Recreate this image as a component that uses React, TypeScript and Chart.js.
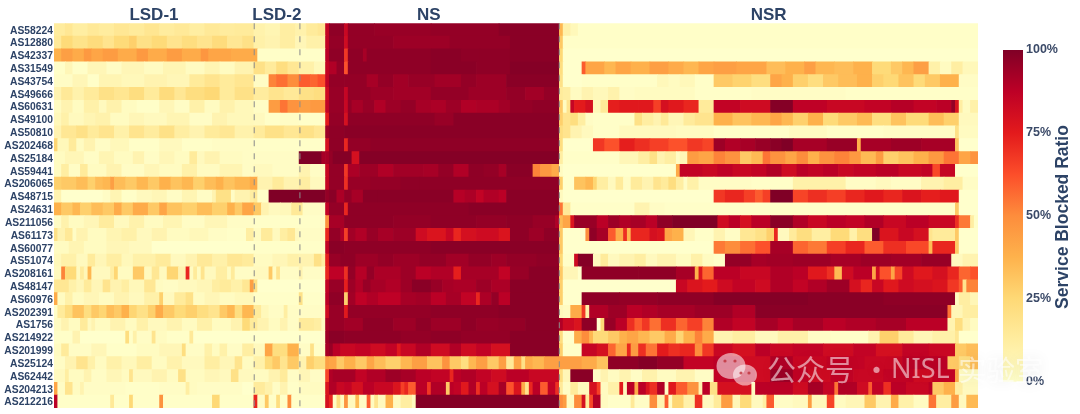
import React, { useEffect, useRef } from "react";
import { Chart, registerables } from "chart.js";

Chart.register(...registerables);

// Every row is a list of [last column (exclusive), blocked ratio %] runs over 245 services.
const AS58224 = [[3,13],[5,16],[9,12],[12,15],[16,13],[20,16],[24,14],[28,17],[32,13],[36,15],[40,12],[44,15],[48,13],[53,14],[56,9],[60,7],[64,12],[67,9],[70,14],[72,16],[73,85],[77,97],[78,84],[85,96],[100,95],[118,96],[134,98],[135,36],[137,10],[139,5],[245,1]];
const AS12880 = [[2,15],[5,24],[9,19],[13,23],[16,18],[20,24],[22,28],[26,20],[30,24],[34,18],[38,22],[42,18],[46,23],[50,16],[53,20],[56,10],[60,8],[64,12],[67,6],[72,10],[73,86],[77,96],[78,82],[90,96],[105,94],[121,96],[134,98],[135,30],[245,1]];
const AS42337 = [[2,38],[5,44],[8,40],[10,46],[13,42],[17,45],[22,40],[25,46],[30,40],[34,45],[39,40],[41,47],[47,42],[54,40],[72,1],[73,88],[77,97],[78,68],[82,97],[83,92],[100,97],[108,98],[113,97],[121,97],[134,98],[135,25],[245,0]];
const AS31549 = [[3,1],[5,6],[9,1],[14,6],[18,2],[24,6],[29,3],[35,7],[40,3],[44,7],[48,3],[53,8],[56,20],[59,14],[62,22],[65,16],[69,10],[72,5],[73,86],[75,90],[77,96],[78,62],[100,97],[112,98],[121,97],[134,99],[135,22],[140,0],[141,60],[146,42],[149,36],[153,42],[158,38],[163,44],[167,40],[171,36],[175,42],[181,44],[189,42],[194,34],[199,38],[202,44],[207,36],[212,34],[217,38],[222,24],[225,30],[228,36],[232,44],[235,10],[238,3],[241,12],[245,5]];
const AS43754 = [[5,2],[9,6],[12,1],[18,7],[24,5],[30,8],[36,6],[40,14],[44,18],[48,14],[53,17],[57,2],[59,52],[62,56],[65,50],[68,60],[70,58],[72,62],[73,86],[77,96],[83,96],[86,92],[90,96],[94,93],[101,95],[108,93],[112,96],[120,94],[134,98],[135,20],[140,0],[160,1],[163,5],[166,3],[170,5],[175,1],[180,30],[185,27],[190,22],[193,42],[196,38],[200,28],[204,22],[208,30],[213,34],[217,38],[220,28],[224,25],[228,32],[231,24],[235,30],[240,38],[245,2]];
const AS49666 = [[2,8],[5,15],[8,9],[12,14],[16,20],[20,17],[24,22],[28,14],[32,23],[35,16],[40,22],[44,25],[48,14],[53,20],[57,13],[61,18],[65,15],[69,20],[72,22],[73,82],[77,95],[78,85],[84,96],[90,94],[100,93],[110,96],[120,94],[125,96],[130,93],[134,96],[135,14],[137,12],[140,3],[143,8],[147,5],[150,9],[154,2],[170,3],[185,1],[210,2],[245,1]];
const AS60631 = [[2,3],[5,8],[8,3],[12,10],[14,4],[18,9],[22,3],[28,1],[32,6],[36,2],[40,10],[44,3],[48,9],[53,5],[57,2],[60,45],[62,55],[65,48],[68,44],[72,46],[73,86],[77,95],[78,84],[79,96],[82,92],[85,95],[88,90],[92,94],[96,96],[100,92],[104,91],[108,94],[112,90],[118,91],[121,93],[127,96],[134,97],[135,30],[136,3],[137,18],[138,85],[141,75],[143,80],[145,5],[147,15],[150,74],[155,76],[159,76],[161,66],[163,80],[167,76],[171,72],[175,14],[182,86],[190,82],[196,99],[205,87],[215,84],[222,86],[228,89],[234,86],[238,88],[239,96],[240,78],[241,12],[243,3],[245,10]];
const AS49100 = [[2,5],[4,10],[8,4],[11,7],[15,9],[20,3],[24,6],[30,4],[36,7],[42,2],[46,8],[53,5],[56,4],[60,1],[65,2],[72,1],[73,75],[77,96],[78,80],[101,97],[106,95],[134,98],[135,28],[137,18],[139,22],[141,12],[143,2],[154,1],[156,20],[159,12],[161,8],[163,15],[167,6],[170,14],[175,18],[180,38],[185,32],[190,36],[193,42],[196,36],[200,28],[204,38],[208,24],[213,30],[217,35],[222,22],[226,32],[232,24],[236,34],[240,28],[245,4]];
const AS50810 = [[2,8],[6,16],[9,20],[12,14],[16,18],[20,10],[24,18],[28,13],[32,20],[36,12],[40,8],[44,14],[48,16],[53,9],[56,14],[61,20],[65,16],[69,20],[72,16],[73,94],[77,97],[134,98],[135,22],[137,18],[140,8],[143,4],[150,1],[165,4],[175,3],[195,1],[205,3],[220,1],[239,2],[240,20],[245,3]];
const AS202468 = [[1,26],[4,5],[6,14],[8,3],[11,8],[15,2],[20,5],[28,1],[34,4],[42,1],[53,2],[72,1],[73,80],[77,97],[78,72],[84,96],[134,97],[135,22],[143,0],[146,68],[150,62],[154,74],[158,70],[163,66],[168,62],[172,68],[175,65],[178,94],[182,90],[186,92],[190,95],[193,98],[196,100],[205,92],[213,95],[214,38],[222,92],[230,94],[239,92],[240,32],[245,0]];
const AS25184 = [[3,3],[8,6],[12,2],[16,7],[21,3],[24,8],[28,2],[32,6],[36,3],[38,14],[40,4],[44,8],[50,3],[65,2],[71,100],[72,92],[73,92],[74,96],[79,99],[81,80],[134,99],[135,12],[150,1],[155,6],[158,12],[160,20],[162,8],[165,12],[166,2],[168,6],[171,45],[175,42],[178,52],[182,48],[185,30],[188,35],[190,55],[194,48],[197,42],[200,50],[203,38],[207,48],[211,52],[214,46],[218,35],[220,45],[224,28],[228,32],[232,38],[236,46],[240,55],[243,42],[245,48]];
const AS59441 = [[2,3],[4,12],[7,2],[9,14],[14,3],[18,8],[24,2],[28,6],[34,3],[38,10],[44,3],[50,7],[53,2],[58,4],[65,2],[68,8],[72,2],[73,84],[77,96],[78,68],[81,91],[86,94],[90,90],[98,93],[102,92],[106,96],[110,90],[114,97],[118,96],[120,92],[127,98],[129,52],[132,46],[134,40],[135,3],[165,0],[166,40],[172,86],[176,84],[180,87],[185,84],[189,86],[193,90],[197,82],[200,88],[204,86],[208,88],[212,84],[218,86],[224,88],[230,84],[233,86],[235,64],[239,85],[245,0]];
const AS206065 = [[2,28],[6,30],[9,34],[11,28],[13,34],[15,36],[16,44],[19,34],[22,30],[25,36],[28,30],[31,38],[34,32],[37,36],[40,28],[43,34],[45,38],[48,32],[52,36],[54,40],[58,8],[61,14],[65,8],[68,12],[72,4],[73,85],[77,96],[78,70],[84,95],[92,96],[97,97],[134,97],[135,28],[138,0],[141,32],[143,36],[144,26],[147,12],[149,4],[151,14],[153,2],[156,14],[159,8],[161,18],[163,14],[165,22],[167,12],[168,2],[171,10],[175,2],[185,2],[196,1],[210,10],[218,2],[222,4],[230,2],[236,8],[241,12],[245,2]];
const AS48715 = [[2,8],[13,0],[15,2],[18,7],[22,1],[26,4],[30,6],[34,2],[38,7],[42,2],[43,8],[47,20],[48,2],[52,8],[53,12],[54,15],[57,1],[72,100],[73,96],[75,98],[77,91],[79,96],[82,92],[86,98],[106,98],[109,89],[112,91],[114,86],[118,90],[120,88],[134,98],[135,4],[175,0],[178,68],[183,72],[186,66],[188,60],[190,66],[196,100],[200,65],[205,70],[210,66],[215,72],[220,76],[225,72],[230,78],[235,74],[240,76],[245,0]];
const AS24631 = [[2,38],[5,30],[7,36],[10,28],[13,34],[16,30],[18,40],[21,30],[25,40],[28,30],[30,42],[34,32],[38,28],[42,34],[46,28],[48,38],[50,30],[53,42],[55,30],[57,8],[60,4],[63,5],[66,15],[72,2],[73,86],[77,96],[78,72],[110,97],[134,98],[135,55],[137,15],[154,1],[158,8],[162,2],[239,1],[240,30],[245,0]];
const AS211056 = [[2,2],[4,9],[8,3],[12,6],[16,13],[20,4],[24,9],[29,3],[34,7],[40,2],[46,6],[53,2],[72,1],[73,48],[77,92],[90,97],[100,96],[112,97],[120,96],[127,97],[133,95],[134,90],[135,35],[137,42],[138,78],[144,95],[147,88],[150,94],[153,90],[157,92],[160,88],[164,97],[176,100],[179,82],[182,88],[185,80],[190,88],[196,98],[200,90],[205,84],[210,88],[215,86],[220,90],[226,84],[232,88],[239,84],[240,70],[243,54],[244,12],[245,1]];
const AS61173 = [[1,20],[3,8],[5,15],[6,2],[9,8],[14,3],[18,7],[22,10],[26,4],[30,8],[36,3],[41,5],[46,2],[51,1],[53,12],[55,3],[58,14],[60,4],[62,12],[64,16],[65,4],[72,2],[73,72],[76,96],[77,90],[78,66],[80,93],[83,90],[86,95],[90,92],[96,94],[99,82],[104,78],[106,84],[108,72],[112,80],[118,82],[121,78],[126,97],[130,94],[134,97],[135,30],[141,0],[142,50],[144,97],[147,92],[149,60],[151,40],[152,70],[153,36],[158,72],[160,80],[162,78],[164,42],[167,38],[170,6],[175,1],[178,8],[182,2],[186,16],[189,20],[191,28],[192,72],[195,4],[197,14],[201,22],[206,12],[211,24],[213,10],[217,22],[219,100],[224,78],[228,84],[232,80],[233,18],[239,14],[240,30],[245,0]];
const AS60077 = [[4,3],[8,7],[14,3],[20,6],[26,4],[53,0],[72,1],[73,86],[77,98],[100,97],[134,98],[135,30],[175,0],[178,54],[182,50],[186,56],[190,62],[196,92],[200,58],[205,54],[210,66],[215,72],[220,60],[226,70],[232,64],[233,35],[239,72],[240,30],[245,0]];
const AS51074 = [[2,5],[6,10],[9,4],[11,14],[14,6],[18,12],[21,5],[27,10],[31,14],[35,4],[38,8],[42,15],[46,10],[50,16],[53,14],[58,3],[62,6],[65,10],[69,8],[71,20],[72,12],[73,74],[76,95],[80,97],[86,94],[90,96],[97,94],[104,96],[110,93],[116,96],[120,94],[128,96],[134,97],[135,25],[138,1],[139,82],[143,99],[145,4],[147,14],[150,4],[154,8],[157,12],[160,4],[165,8],[169,3],[172,10],[175,3],[178,1],[185,96],[189,92],[196,93],[206,94],[214,92],[222,94],[230,93],[238,95],[241,4],[245,8]];
const AS208161 = [[2,4],[3,52],[6,24],[7,4],[8,14],[9,6],[10,36],[15,4],[16,12],[17,26],[21,3],[24,30],[26,4],[28,16],[30,4],[33,26],[35,8],[36,72],[37,3],[38,14],[39,3],[40,18],[43,4],[46,12],[47,3],[48,14],[53,2],[57,4],[58,30],[59,3],[60,18],[65,2],[66,8],[72,2],[73,72],[77,87],[78,70],[80,96],[83,89],[85,96],[92,91],[96,94],[100,88],[106,90],[108,74],[118,92],[121,86],[126,95],[134,98],[135,30],[139,6],[140,0],[155,97],[165,97],[170,92],[171,38],[172,78],[175,58],[182,88],[190,84],[196,90],[200,88],[205,76],[207,70],[209,35],[212,82],[217,88],[218,42],[219,82],[222,62],[223,42],[225,65],[228,82],[233,76],[237,80],[240,72],[243,58],[245,62]];
const AS48147 = [[4,16],[6,10],[8,6],[10,14],[13,6],[15,18],[18,8],[20,12],[24,5],[27,16],[29,3],[33,2],[38,4],[42,6],[44,12],[47,14],[50,10],[52,16],[53,44],[54,20],[72,0],[73,86],[77,95],[78,74],[80,94],[82,90],[84,95],[88,92],[92,90],[95,94],[100,98],[103,95],[106,92],[112,91],[116,94],[121,91],[134,98],[135,28],[165,0],[168,84],[172,78],[176,75],[180,82],[186,86],[190,82],[196,90],[200,86],[205,90],[211,94],[214,80],[217,72],[220,84],[224,76],[228,82],[233,80],[237,78],[240,68],[241,60],[242,18],[245,52]];
const AS60976 = [[1,40],[3,3],[5,10],[8,3],[12,6],[16,3],[20,8],[24,4],[28,10],[29,28],[32,4],[35,14],[37,20],[40,3],[44,6],[48,3],[53,5],[65,1],[66,20],[72,1],[73,88],[77,97],[78,28],[80,93],[83,87],[86,90],[92,87],[96,92],[100,93],[104,88],[108,92],[112,86],[113,72],[116,91],[118,96],[121,88],[134,98],[135,28],[140,0],[150,97],[160,96],[175,97],[200,99],[220,98],[239,97],[240,3],[243,12],[245,6]];
const AS202391 = [[1,1],[3,14],[5,22],[8,32],[10,22],[12,30],[14,26],[16,34],[18,30],[20,38],[22,26],[25,20],[27,28],[29,40],[32,30],[35,24],[38,28],[41,22],[44,18],[46,30],[48,36],[50,22],[53,36],[55,14],[57,5],[61,2],[62,12],[72,2],[73,82],[77,95],[78,76],[100,96],[118,97],[134,98],[135,5],[137,3],[140,40],[141,68],[142,10],[147,90],[152,94],[156,88],[160,90],[170,92],[180,94],[186,90],[215,98],[237,98],[238,55],[241,6],[245,12]];
const AS1756 = [[2,3],[4,8],[7,3],[9,14],[10,4],[11,8],[15,3],[19,8],[22,3],[25,10],[30,4],[34,8],[38,3],[42,10],[47,3],[50,8],[52,24],[54,14],[57,8],[60,3],[62,8],[65,2],[69,14],[71,12],[72,3],[73,92],[77,95],[82,93],[90,97],[96,94],[100,97],[108,94],[112,97],[118,95],[125,96],[134,98],[135,90],[138,82],[140,78],[144,97],[145,0],[146,25],[149,95],[152,88],[154,70],[156,60],[158,68],[161,56],[165,70],[168,58],[172,66],[175,52],[180,90],[186,86],[192,92],[196,88],[204,92],[210,88],[218,90],[226,92],[237,88],[239,8],[241,22],[243,8],[245,3]];
const AS214922 = [[5,1],[7,8],[19,0],[20,22],[21,1],[22,10],[26,2],[27,18],[30,3],[36,1],[37,15],[53,0],[72,0],[73,94],[77,98],[92,97],[100,96],[108,97],[121,96],[134,98],[135,22],[138,0],[140,40],[142,50],[143,36],[147,24],[150,30],[152,38],[155,42],[158,36],[162,30],[165,40],[167,26],[170,38],[172,52],[175,40],[180,8],[186,12],[192,4],[200,10],[206,2],[216,1],[219,8],[224,28],[228,14],[233,6],[239,10],[240,16],[245,0]];
const AS201999 = [[2,3],[4,14],[10,2],[14,6],[22,1],[28,3],[34,6],[35,22],[40,2],[42,10],[44,3],[46,10],[50,2],[53,12],[56,4],[58,42],[62,22],[65,38],[68,2],[69,20],[72,1],[73,92],[74,95],[76,88],[80,84],[84,86],[88,82],[91,86],[92,76],[96,84],[100,90],[105,82],[108,90],[112,82],[116,86],[121,80],[134,98],[135,28],[140,1],[144,85],[147,80],[149,58],[152,42],[153,72],[155,45],[157,70],[160,55],[163,75],[166,70],[170,72],[172,50],[175,68],[180,84],[186,80],[190,88],[196,84],[204,86],[212,82],[218,86],[225,80],[232,86],[239,84],[242,30],[245,34]];
const AS25124 = [[3,2],[6,8],[9,18],[11,10],[14,3],[18,10],[22,5],[26,12],[30,3],[34,9],[40,4],[44,12],[48,6],[50,18],[53,3],[56,10],[58,24],[60,30],[62,18],[65,30],[67,8],[69,28],[72,22],[73,44],[75,42],[77,30],[80,38],[83,30],[85,42],[88,34],[92,28],[95,36],[99,44],[103,32],[105,48],[108,30],[110,22],[112,36],[115,44],[118,30],[120,44],[122,15],[124,42],[125,20],[127,40],[130,36],[134,44],[140,44],[144,40],[147,32],[155,97],[160,99],[167,96],[175,86],[182,88],[190,82],[196,90],[205,84],[215,86],[225,84],[237,88],[240,30],[243,22],[245,34]];
const AS62442 = [[3,4],[4,12],[8,3],[10,8],[14,2],[18,6],[20,3],[21,18],[26,4],[30,8],[33,3],[35,20],[40,3],[44,6],[47,4],[49,20],[53,4],[57,3],[60,8],[62,14],[65,2],[68,6],[72,2],[73,65],[74,90],[80,92],[83,86],[88,90],[92,94],[96,92],[100,88],[105,86],[106,72],[108,88],[112,90],[116,86],[120,82],[126,88],[134,84],[135,22],[137,6],[143,98],[145,2],[147,8],[150,3],[153,8],[156,2],[160,9],[165,3],[170,8],[175,2],[186,86],[190,82],[196,94],[200,86],[206,82],[212,86],[220,84],[228,86],[233,82],[239,86],[240,40],[245,3]];
const AS204213 = [[1,42],[3,2],[5,18],[7,3],[8,8],[19,2],[28,1],[35,2],[36,12],[38,3],[50,2],[53,0],[56,14],[58,9],[60,2],[62,8],[65,1],[72,3],[73,78],[75,90],[77,84],[79,86],[82,80],[85,88],[90,84],[92,78],[93,66],[94,72],[96,60],[99,88],[100,68],[104,90],[105,30],[106,88],[108,86],[110,76],[112,90],[113,70],[115,88],[118,80],[120,92],[122,62],[124,78],[125,40],[126,18],[127,72],[129,88],[131,60],[133,86],[134,70],[135,15],[137,2],[139,14],[142,4],[144,80],[145,66],[147,3],[150,10],[151,75],[152,4],[154,88],[155,40],[157,88],[158,78],[160,70],[162,90],[163,2],[165,76],[168,60],[171,48],[172,8],[174,88],[176,20],[185,80],[186,3],[196,88],[200,82],[204,92],[207,85],[208,55],[213,90],[216,82],[217,60],[220,86],[222,70],[226,88],[232,84],[233,88],[236,30],[239,38],[241,12],[245,4]];
const AS212216 = [[1,88],[15,1],[16,15],[20,1],[21,25],[28,1],[29,48],[42,1],[44,25],[53,1],[54,72],[56,2],[57,30],[59,1],[60,22],[62,1],[63,50],[72,1],[73,80],[74,72],[75,2],[76,22],[77,3],[78,48],[80,4],[81,35],[83,2],[84,60],[85,3],[86,18],[88,4],[90,38],[92,4],[95,12],[96,4],[134,99],[135,50],[136,45],[138,3],[140,50],[141,80],[142,14],[143,65],[145,90],[147,3],[153,1],[154,15],[158,2],[160,50],[162,8],[163,60],[164,2],[167,26],[170,10],[172,70],[175,4],[177,14],[180,45],[182,6],[185,24],[188,4],[189,12],[191,60],[196,2],[200,4],[201,45],[205,5],[207,65],[210,3],[215,6],[218,30],[222,8],[224,40],[228,10],[232,3],[234,55],[238,12],[240,45],[242,4],[245,35]];

const asLabels = ["AS58224","AS12880","AS42337","AS31549","AS43754","AS49666","AS60631","AS49100","AS50810","AS202468","AS25184","AS59441","AS206065","AS48715","AS24631","AS211056","AS61173","AS60077","AS51074","AS208161","AS48147","AS60976","AS202391","AS1756","AS214922","AS201999","AS25124","AS62442","AS204213","AS212216"];
const asRows = [AS58224,AS12880,AS42337,AS31549,AS43754,AS49666,AS60631,AS49100,AS50810,AS202468,AS25184,AS59441,AS206065,AS48715,AS24631,AS211056,AS61173,AS60077,AS51074,AS208161,AS48147,AS60976,AS202391,AS1756,AS214922,AS201999,AS25124,AS62442,AS204213,AS212216];
const columnCount = 245;
const sectionNames = ["LSD-1","LSD-2","NS","NSR"];
const sectionCenters = [26.5,59.1,99.4,189.5];
const sectionDividers = [53.1,65.2,134];
const colorbarTicks = [0,25,50,75,100];

const palette = [[255,255,204],[255,237,160],[254,217,118],[254,178,76],[253,141,60],[252,78,42],[227,26,28],[189,0,38],[128,0,38]];

function colorOf(p: number) {
  const t = Math.max(0, Math.min(1, p / 100)) * (palette.length - 1);
  const i = Math.min(palette.length - 2, Math.floor(t));
  const f = t - i;
  const c = palette[i].map((v, k) => Math.round(v + (palette[i + 1][k] - v) * f));
  return `rgb(${c[0]},${c[1]},${c[2]})`;
}

const navy = "#2d4366";
const sans = "'Liberation Sans', Arial, sans-serif";

const extras = {
  id: "extras",
  afterDatasetsDraw(chart: any) {
    const { ctx, chartArea, scales } = chart;
    ctx.save();
    ctx.strokeStyle = "rgba(140,140,140,0.85)";
    ctx.lineWidth = 1.2;
    ctx.setLineDash([6, 7]);
    sectionDividers.forEach((c) => {
      const x = scales.x.getPixelForValue(c);
      ctx.beginPath();
      ctx.moveTo(x, chartArea.top);
      ctx.lineTo(x, chartArea.bottom);
      ctx.stroke();
    });
    ctx.setLineDash([]);
    // colour bar, placed on the ratio axis
    const top = scales.ratio.getPixelForValue(100);
    const bottom = scales.ratio.getPixelForValue(0);
    const g = ctx.createLinearGradient(0, bottom, 0, top);
    palette.forEach((_, i) => g.addColorStop(i / (palette.length - 1), colorOf((i / (palette.length - 1)) * 100)));
    ctx.fillStyle = g;
    ctx.fillRect(1003, top, 20, bottom - top);
    // rotated axis name
    ctx.fillStyle = navy;
    ctx.font = `bold 17.5px ${sans}`;
    ctx.textAlign = "center";
    ctx.textBaseline = "middle";
    ctx.translate(1063, 217);
    ctx.rotate(-Math.PI / 2);
    ctx.fillText("Service Blocked Ratio", 0, 0);
    ctx.restore();
    // publisher's overlay mark
    ctx.save();
    ctx.fillStyle = "rgba(255,255,255,0.55)";
    ctx.beginPath();
    ctx.ellipse(731, 366, 14.5, 13, 0, 0, Math.PI * 2);
    ctx.fill();
    ctx.beginPath();
    ctx.ellipse(745, 375, 12, 10.5, 0, 0, Math.PI * 2);
    ctx.fill();
    ctx.fillStyle = "rgba(190,40,50,0.75)";
    [[725, 361], [735, 361], [741, 373], [749, 373]].forEach(([ex, ey]) => {
      ctx.beginPath();
      ctx.arc(ex, ey, 1.6, 0, Math.PI * 2);
      ctx.fill();
    });
    ctx.shadowColor = "rgba(0,0,0,0.16)";
    ctx.shadowBlur = 14;
    ctx.fillStyle = "rgba(255,255,255,0.55)";
    ctx.font = "29px 'Noto Sans CJK SC'";
    ctx.textBaseline = "middle";
    ctx.textAlign = "left";
    ctx.fillText("公众号", 767, 370);
    ctx.fillText("·", 862, 370);
    ctx.font = `27px 'Noto Sans', ${sans}`;
    ctx.fillText("NISL", 891, 370);
    ctx.font = "28.5px 'Noto Sans CJK SC'";
    ctx.fillText("实验室", 958, 370);
    ctx.restore();
  },
};

const noMargins = (s: any) => {
  s.paddingTop = 0;
  s.paddingBottom = 0;
  s.paddingLeft = 0;
  s.paddingRight = 0;
};

export default function App() {
  const ref = useRef<HTMLCanvasElement | null>(null);
  useEffect(() => {
    const cells: any[] = [];
    const colors: string[] = [];
    asRows.forEach((row, r) => {
      let start = 0;
      row.forEach(([end, value]) => {
        cells.push({ x: [start, end], y: asLabels[r] });
        colors.push(colorOf(value));
        start = end;
      });
    });
    const chart = new Chart(ref.current as HTMLCanvasElement, {
      type: "bar",
      data: {
        labels: asLabels,
        datasets: [{
          data: cells,
          backgroundColor: colors,
          borderWidth: 0,
          inflateAmount: 0.35,
          grouped: false,
          barPercentage: 1,
          categoryPercentage: 1,
        } as any],
      },
      options: {
        indexAxis: "y",
        animation: false,
        responsive: false,
        events: [],
        layout: { padding: { left: 0, right: 0, top: 0, bottom: 6 } },
        plugins: { legend: { display: false }, tooltip: { enabled: false } },
        scales: {
          x: {
            type: "linear",
            position: "top",
            min: 0,
            max: columnCount,
            grid: { display: false, drawTicks: false },
            border: { display: false },
            afterBuildTicks(s: any) { s.ticks = sectionCenters.map((value) => ({ value })); },
            afterFit(s: any) { s.height = 23.3; noMargins(s); },
            ticks: {
              autoSkip: false,
              maxRotation: 0,
              padding: -2,
              color: navy,
              font: { family: sans, weight: "bold", size: 17 },
              callback: (v: any) => sectionNames[sectionCenters.indexOf(v)] ?? "",
            },
          },
          y: {
            type: "category",
            offset: true,
            grid: { display: false, drawTicks: false },
            border: { display: false },
            afterFit(s: any) { s.width = 54; noMargins(s); },
            ticks: {
              autoSkip: false,
              padding: 1,
              labelOffset: 1,
              color: navy,
              font: { family: sans, weight: "bold", size: 10.3 },
            },
          },
          ratio: {
            type: "linear",
            position: "right",
            offset: false,
            min: -7.93,
            max: 108.05,
            grid: { display: false, drawTicks: false },
            border: { display: false },
            afterBuildTicks(s: any) { s.ticks = colorbarTicks.map((value) => ({ value })); },
            afterFit(s: any) { s.width = 102; noMargins(s); },
            ticks: {
              padding: 48,
              color: "#3b4a68",
              font: { family: sans, weight: "bold", size: 12.5 },
              callback: (v: any) => `${v}%`,
            },
          },
        },
      } as any,
      plugins: [extras],
    });
    return () => chart.destroy();
  }, []);
  return (
    <div style={{ position: "fixed", left: 0, top: 0, width: 1080, height: 414, background: "#fff" }}>
      <canvas ref={ref} width={1080} height={414} style={{ display: "block" }} />
    </div>
  );
}
